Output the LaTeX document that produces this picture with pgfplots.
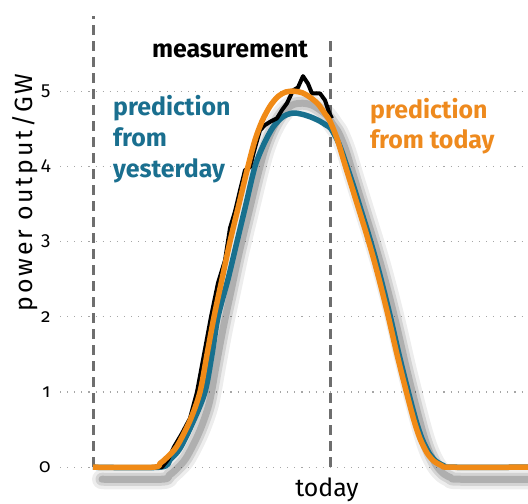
\documentclass[border=0pt]{standalone}
\usepackage{fontspec}
\setmainfont[Numbers=OldStyle]{Fira Sans}
\usepackage{pgfplots}
\usepackage{pgfplotstable}
\pgfplotsset{compat=1.18}
\definecolor{cblue}{HTML}{18708E}
\definecolor{corange}{HTML}{F08A16}
\definecolor{corangetext}{HTML}{EE8A1E}
\definecolor{cbluetext}{HTML}{1A6F8F}
\definecolor{cdash}{HTML}{6E6E6E}

\pgfplotstableread{
x y
93 0
153 0
160 0.05
167 0.13
177 0.28
190 0.62
200 1.0
207 1.5
214 2.0
222 2.5
230 3.0
239 3.5
248 4.0
255 4.35
262 4.6
270 4.8
278 4.93
286 4.99
294 5.0
302 4.98
310 4.92
318 4.83
325 4.7
330 4.6
337 4.37
345 4.02
352 3.72
359 3.42
366 3.12
373 2.8
380 2.45
388 2.02
397 1.5
406 1.02
414 0.62
420 0.38
427 0.19
434 0.08
442 0.02
450 0
528 0
}\orangedata

\pgfplotstableread{
x y
93 0
160 0
170 0.1
180 0.25
193 0.6
205 1.0
212 1.5
218 2.0
228 2.5
237 3.0
246 3.5
255 4.0
264 4.3
273 4.52
283 4.66
293 4.71
303 4.69
312 4.65
320 4.6
326 4.55
331 4.5
339 4.3
347 4.0
354 3.72
361 3.42
368 3.12
375 2.8
382 2.45
390 2.02
399 1.5
408 1.02
416 0.62
422 0.38
429 0.19
436 0.08
444 0.02
452 0
528 0
}\bluedata

\pgfplotstableread{
x y
93 0
162 0
168 0.1
174 0.27
182 0.45
190 0.65
197 1.0
204 1.5
211 2.0
218 2.45
225 2.75
230 3.18
235 3.4
240 3.68
245 3.95
250 3.99
255 4.25
260 4.48
265 4.55
271 4.6
277 4.64
282 4.75
287 4.84
293 5.01
298 5.05
303 5.2
308 5.1
312 4.97
320 4.97
325 4.88
329 4.72
332 4.64
}\blackdata

\begin{document}
\begin{tikzpicture}
\useasboundingbox (0,0) rectangle (528bp,504bp);
\begin{axis}[
  at={(60bp,18bp)}, anchor=south west,
  scale only axis, width=468bp, height=485.04bp,
  xmin=60, xmax=528, ymin=-0.25, ymax=6.2,
  clip=false,
  axis line style={draw=none},
  major tick length=0pt,
  ytick={0,1,2,3,4,5},
  xtick={330}, xticklabels={today},
  /pgf/number format/assume math mode=true,
  yticklabel style={font=\fontsize{19}{19}\selectfont, anchor=east, xshift=-6bp},
  xticklabel style={font=\fontsize{25}{25}\selectfont, yshift=12bp, xshift=-3bp},
  ylabel={power output/GW},
  every axis y label/.style={at={(axis description cs:-0.0748,0.605)}, rotate=90, anchor=center, font=\fontsize{25}{25}\selectfont\addfontfeatures{LetterSpace=11}},
  ymajorgrids,
  grid style={draw=gray!70, line width=1.1bp, dash pattern=on 1.1bp off 6bp},
]
% dashed markers
\addplot[draw=cdash, line width=3bp, dash pattern=on 10bp off 6bp] coordinates {(93,0) (93,6.0)};
\addplot[draw=cdash, line width=3bp, dash pattern=on 10bp off 6bp] coordinates {(330,0) (330,5.7)};
% shadows (the orange curve, displaced right and down)
\addplot[smooth, draw=black, opacity=0.07, line width=20bp, line cap=round, line join=round] table[x expr=\thisrow{x}+9, y expr=\thisrow{y}-0.16] {\orangedata};
\addplot[smooth, draw=black, opacity=0.11, line width=13bp, line cap=round, line join=round] table[x expr=\thisrow{x}+9, y expr=\thisrow{y}-0.16] {\orangedata};
\addplot[smooth, draw=black, opacity=0.17, line width=7bp, line cap=round, line join=round] table[x expr=\thisrow{x}+9, y expr=\thisrow{y}-0.16] {\orangedata};
% curves
\addplot[smooth, draw=cblue, line width=5.5bp, line join=round] table[x=x,y=y] {\bluedata};
\addplot[draw=black, line width=4bp, line join=round] table[x=x,y=y] {\blackdata};
\addplot[smooth, draw=corange, line width=5.5bp, line join=round] table[x=x,y=y] {\orangedata};
% labels
\node[anchor=base, font=\fontsize{25}{25}\selectfont\bfseries, text=black] at (axis cs:230,5.452) {measurement};
\node[anchor=north west, inner sep=0pt, align=left, font=\fontsize{25}{31}\selectfont\bfseries, text=cbluetext] at (axis cs:113,4.95) {prediction\\from\\yesterday};
\node[anchor=north west, inner sep=0pt, align=left, font=\fontsize{25}{30}\selectfont\bfseries, text=corangetext] at (axis cs:370,4.91) {prediction\\from today};
\end{axis}
\end{tikzpicture}
\end{document}
